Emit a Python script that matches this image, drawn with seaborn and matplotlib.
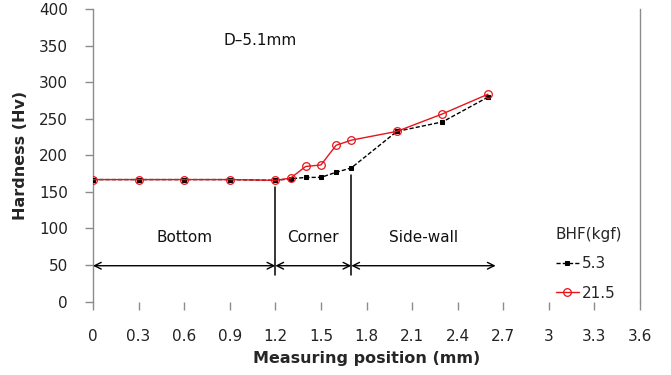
import numpy as np
import pandas as pd
import seaborn as sns
import matplotlib
matplotlib.use("Agg")
import matplotlib.pyplot as plt

# measuring positions (mm)
pos = [0, 0.3, 0.6, 0.9, 1.2, 1.3, 1.4, 1.5, 1.6, 1.7, 2.0, 2.3, 2.6]
# hardness (Hv) for the two blank holding forces
hv_53 = [167, 167, 167, 167, 166, 168, 170, 170, 177, 183, 233, 246, 280]
hv_215 = [167, 167, 167, 167, 166, 169, 185, 187, 214, 221, 233, 257, 284]

xticks = [0, 0.3, 0.6, 0.9, 1.2, 1.5, 1.8, 2.1, 2.4, 2.7, 3, 3.3, 3.6]
xtick_labels = ["0", "0.3", "0.6", "0.9", "1.2", "1.5", "1.8", "2.1", "2.4", "2.7", "3", "3.3", "3.6"]
yticks = [0, 50, 100, 150, 200, 250, 300, 350, 400]

# regions (start, end, label)
region_edges = [0, 1.2, 1.7, 2.65]
region_names = ["Bottom", "Corner", "Side-wall"]

df = pd.DataFrame({"pos": pos + pos,
                   "hv": hv_53 + hv_215,
                   "BHF": ["5.3"] * len(pos) + ["21.5"] * len(pos)})

sns.set_style("white")
plt.rcParams['font.family'] = ['DejaVu Sans']

fig = plt.figure(figsize=(6.71, 3.75), dpi=100)
ax = fig.add_axes([0.1386, 0.196, 0.8152, 0.7787])

d1 = df[df.BHF == "5.3"]
d2 = df[df.BHF == "21.5"]
sns.lineplot(data=d1, x="pos", y="hv", ax=ax, color="black", linestyle=(0, (3, 1.5)),
             linewidth=1.0, marker="s", markersize=3.2, markeredgecolor="black",
             label="5.3", zorder=3)
sns.lineplot(data=d2, x="pos", y="hv", ax=ax, color="#e8141a", linewidth=1.0,
             marker="o", markersize=5.5, markerfacecolor="none",
             markeredgecolor="#e8141a", markeredgewidth=0.9, label="21.5", zorder=4)

ax.set_xlim(0, 3.6)
ax.set_ylim(0, 400)
ax.set_xticks(xticks)
ax.set_xticklabels(xtick_labels)
ax.set_yticks(yticks)

for s in ["top", "bottom"]:
    ax.spines[s].set_visible(False)
for s in ["left", "right"]:
    ax.spines[s].set_color("#8c8c8c")
    ax.spines[s].set_linewidth(1.0)

ax.tick_params(axis="y", which="both", left=True, length=6, width=1, color="#8c8c8c",
               labelsize=11, labelcolor="#222222", pad=12)
ax.tick_params(axis="x", which="both", bottom=True, length=6, width=1, color="#8c8c8c",
               labelsize=11, labelcolor="#222222", pad=14)

ax.set_xlabel("Measuring position (mm)", fontsize=11.5, fontweight="bold", labelpad=5)
ax.set_ylabel("Hardness (Hv)", fontsize=11.5, fontweight="bold", labelpad=8)

# region separators and arrows
ax.plot([1.2, 1.2], [157, 36], color="black", lw=1.1, zorder=2)
ax.plot([1.7, 1.7], [173, 36], color="black", lw=1.1, zorder=2)
for a, b in zip(region_edges[:-1], region_edges[1:]):
    ax.annotate("", xy=(b, 49), xytext=(a, 49),
                arrowprops=dict(arrowstyle="<->", color="black", lw=1.0,
                                shrinkA=0, shrinkB=0, mutation_scale=12))
for (a, b), name in zip(zip(region_edges[:-1], region_edges[1:]), region_names):
    ax.text((a + b) / 2, 87, name, ha="center", va="center", fontsize=11, color="#111111")

ax.text(1.1, 358, "D\u20135.1mm", ha="center", va="center", fontsize=11, color="#111111")

leg = ax.legend(title="BHF(kgf)", loc="center left", bbox_to_anchor=(0.835, 0.13),
                frameon=False, fontsize=11, title_fontsize=11, handlelength=1.5,
                handletextpad=0.2, labelspacing=0.95, borderaxespad=0)
leg._legend_box.align = "left"

fig.savefig("out.png", dpi=100)
